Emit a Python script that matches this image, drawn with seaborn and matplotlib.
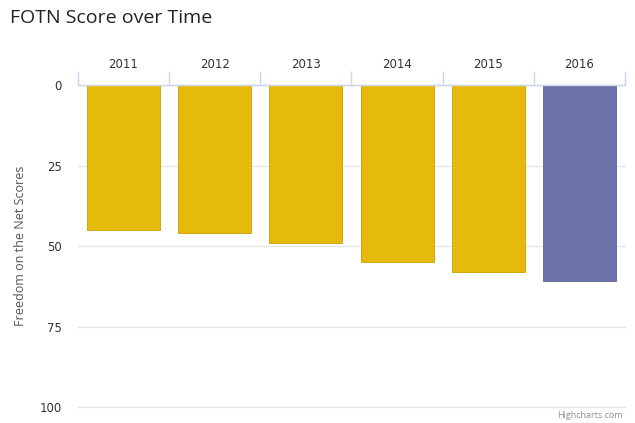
import pandas as pd
import seaborn as sns
import matplotlib
matplotlib.use("Agg")
import matplotlib.pyplot as plt

years = ["2011", "2012", "2013", "2014", "2015", "2016"]
scores = [45, 46, 49, 55, 58, 61]
bar_colors = ["#E6BA0A", "#E6BA0A", "#E6BA0A", "#E6BA0A", "#E6BA0A", "#6B72A8"]
y_ticks = [0, 25, 50, 75, 100]

df = pd.DataFrame({"Year": years, "Score": scores})

sns.set_theme(style="white")
# tick labels look Verdana-like, the titles more like Open Sans
plt.rcParams["font.family"] = ["DejaVu Sans"]
title_font = ["Open Sans", "DejaVu Sans"]

fig = plt.figure(figsize=(6.35, 4.23), dpi=100)
ax = fig.add_axes([0.1228, 0.0378, 0.8614, 0.7612])

sns.barplot(data=df, x="Year", y="Score", hue="Year", palette=bar_colors,
            legend=False, width=0.8, saturation=1, ax=ax,
            edgecolor="#C9A000", linewidth=0.6)
ax.patches[-1].set_edgecolor("#5A6196")

ax.set_ylim(100, 0)
ax.set_xlim(-0.5, len(years) - 0.5)
ax.set_yticks(y_ticks)
ax.yaxis.grid(True, color="#E6E6E6", linewidth=1)
for gl in ax.get_ygridlines():
    gl.set_clip_on(False)
ax.set_axisbelow(True)

ax.xaxis.tick_top()
ax.tick_params(axis="x", which="major", length=0, pad=10, labelsize=8.5, labelcolor="#333333")
ax.set_xticks([i - 0.5 for i in range(len(years) + 1)], minor=True)
ax.tick_params(axis="x", which="minor", length=10, width=1, color="#CCD6EB", top=True, bottom=False)
ax.tick_params(axis="y", length=0, pad=11.5, labelsize=8.5, labelcolor="#333333")

for side in ["left", "right", "bottom"]:
    ax.spines[side].set_visible(False)
ax.spines["top"].set_color("#CCD6EB")
ax.spines["top"].set_linewidth(1)

ax.set_xlabel("")
ax.set_ylabel("Freedom on the Net Scores", fontsize=9, color="#555555", family=title_font)
ax.yaxis.set_label_coords(-(78 - 27) / 547, 0.5)

fig.text(10 / 635, 1 - 18 / 423, "FOTN Score over Time", fontsize=14, color="#222222",
         ha="left", va="center", family=title_font)
fig.text(623 / 635, 1 - 415 / 423, "Highcharts.com", fontsize=6.5, color="#909090",
         ha="right", va="center", family=title_font)

fig.savefig("out.png", dpi=100)
